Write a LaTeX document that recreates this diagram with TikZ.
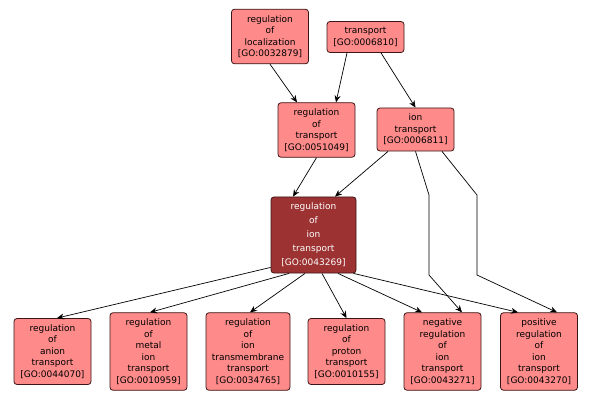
\documentclass[tikz,border=0pt]{standalone}
\usepackage{fontspec}
\setmainfont{DejaVu Sans}
\usepackage{xcolor}
\usepackage{tikz}
\usetikzlibrary{arrows.meta}
\definecolor{termfill}{RGB}{255,138,138}
\definecolor{termdark}{RGB}{156,50,50}
\definecolor{termline}{RGB}{60,22,22}

\begin{document}
\begin{tikzpicture}[x=1pt, y=-1pt, >={Stealth[length=7pt,width=6pt]},
  term/.style={draw=termline, fill=termfill, rounded corners=3pt, line width=0.8pt,
    align=center, font=\fontsize{9}{11.5}\selectfont, minimum width=77pt,
    inner xsep=3pt, inner ysep=6pt},
  focus/.style={term, fill=termdark, text=white, minimum width=85pt,
    font=\fontsize{9}{14}\selectfont},
  edge/.style={->, line width=0.7pt}]

\useasboundingbox (0,0) rectangle (593,402);

% top rows
\node[term] (loc) at (270,36.5) {regulation\\of\\localization\\{[GO:0032879]}};
\node[term] (tr)  at (365.5,37) {transport\\{[GO:0006810]}};
\node[term] (rtr) at (316.5,130) {regulation\\of\\transport\\{[GO:0051049]}};
\node[term] (ion) at (415.5,129.5) {ion\\transport\\{[GO:0006811]}};
\node[focus] (rit) at (313.5,235) {regulation\\of\\ion\\transport\\{[GO:0043269]}};

% bottom row
\node[term] (anion) at (52.5,351.5) {regulation\\of\\anion\\transport\\{[GO:0044070]}};
\node[term] (metal) at (148.5,351.5) {regulation\\of\\metal\\ion\\transport\\{[GO:0010959]}};
\node[term, minimum width=84pt] (tm) at (248,351.5) {regulation\\of\\ion\\transmembrane\\transport\\{[GO:0034765]}};
\node[term] (proton) at (346.5,351.5) {regulation\\of\\proton\\transport\\{[GO:0010155]}};
\node[term] (neg) at (442.5,351.5) {negative\\regulation\\of\\ion\\transport\\{[GO:0043271]}};
\node[term] (pos) at (539,351.5) {positive\\regulation\\of\\ion\\transport\\{[GO:0043270]}};

\draw[edge] (loc.south) -- ([xshift=-19.5pt]rtr.north);
\draw[edge] ([xshift=-18.5pt]tr.south) -- ([xshift=19.5pt]rtr.north);
\draw[edge] ([xshift=15.5pt]tr.south) -- (ion.north);
\draw[edge] (rtr.south) -- ([xshift=-20.5pt]rit.north);
\draw[edge] ([xshift=-27.5pt]ion.south) -- ([xshift=21.5pt]rit.north);
\draw[edge] (ion.south) -- (429,195) -- (429,275) -- ([xshift=19.5pt]neg.north);
\draw[edge] ([xshift=26.5pt]ion.south) -- (477,195) -- (477,275) -- ([xshift=18pt]pos.north);

\draw[edge] ([yshift=6pt]rit.south west) -- ([xshift=4.5pt]anion.north);
\draw[edge] ([xshift=-24.5pt]rit.south) -- ([xshift=1.5pt]metal.north);
\draw[edge] ([xshift=-8.5pt]rit.south) -- ([xshift=2pt]tm.north);
\draw[edge] ([xshift=8.5pt]rit.south) -- (proton.north);
\draw[edge] ([xshift=24.5pt]rit.south) -- ([xshift=-20.5pt]neg.north);
\draw[edge] ([xshift=40pt]rit.south) -- ([xshift=-21pt]pos.north);

\end{tikzpicture}
\end{document}
